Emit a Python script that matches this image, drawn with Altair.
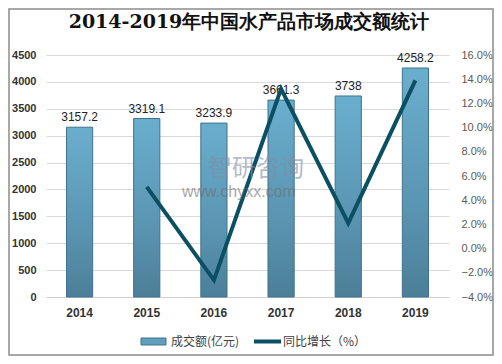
import altair as alt
import pandas as pd

YEARS = ["2014", "2015", "2016", "2017", "2018", "2019"]
VOLUME = [3157.2, 3319.1, 3233.9, 3661.3, 3738, 4258.2]
GROWTH = [None, 0.051, -0.026, 0.132, 0.021, 0.139]
LEGEND_LABELS = ["成交额(亿元)", "同比增长（%）"]
TITLE = ["2014-2019年中国水产品市场成交额统计"]
WATERMARK = ["智研咨询", "www.chyxx.com"]

df = pd.DataFrame({"year": YEARS, "volume": VOLUME, "growth": GROWTH})
df["label"] = [f"{v:g}" for v in VOLUME]

FONT = "Liberation Sans"
LINE_COLOR = "#0b4f63"

x_enc = alt.X("year:N", sort=YEARS,
              scale=alt.Scale(paddingInner=0.61, paddingOuter=0.305),
              axis=alt.Axis(title=None, labelAngle=0, labelFontWeight="bold",
                            labelFontSize=12, labelColor="#333333", labelPadding=10,
                            domain=True, domainColor="#d0d0d0", ticks=False))

left_axis = alt.Axis(title=None, values=list(range(0, 4501, 500)), format="d",
                     labelFontWeight="bold", labelFontSize=11,
                     labelColor="#333333", labelPadding=10,
                     domain=False, ticks=False, grid=True,
                     gridColor="#d9d9d9")
y_left = alt.Y("volume:Q", scale=alt.Scale(domain=[0, 4500], nice=False), axis=left_axis)

gradient = alt.LinearGradient(
    gradient="linear",
    stops=[alt.GradientStop(color="#6aaece", offset=0),
           alt.GradientStop(color="#5a95b2", offset=0.6),
           alt.GradientStop(color="#4c7f98", offset=1)],
    x1=0, x2=0, y1=0, y2=1)

base = alt.Chart(df).encode(x=x_enc, y=y_left)
bars = base.mark_bar(fill=gradient, stroke="#41728a", strokeWidth=1)
labels = base.mark_text(dy=-10, fontSize=12, color="#222222", font=FONT).encode(text="label:N")

left = alt.layer(bars, labels)

line = alt.Chart(df).transform_filter("datum.growth != null").mark_line(
    color=LINE_COLOR, strokeWidth=4, strokeCap="butt", strokeJoin="miter").encode(
    x=alt.X("year:N", sort=YEARS),
    y=alt.Y("growth:Q", scale=alt.Scale(domain=[-0.04, 0.16], nice=False),
            axis=alt.Axis(title=None, orient="right", format=".1%",
                          values=[i / 100 for i in range(-4, 17, 2)],
                          labelFontSize=11, labelColor="#595959", labelPadding=12,
                          domain=False, ticks=False, grid=False)))

wm_df = pd.DataFrame({"t": WATERMARK, "size": [24, 16], "x": [162, 136], "y": [114, 137]})
watermark_cn = alt.Chart(wm_df.iloc[:1]).mark_text(
    color="#7f8fa8", opacity=0.6, font="Noto Sans CJK SC", align="left", baseline="middle").encode(
    x=alt.X("x:Q", scale=None), y=alt.Y("y:Q", scale=None), text="t:N",
    size=alt.Size("size:Q", scale=None, legend=None))
watermark_url = alt.Chart(wm_df.iloc[1:]).mark_text(
    color="#6f6f6f", opacity=0.6, font=FONT, align="left", baseline="middle").encode(
    x=alt.X("x:Q", scale=None), y=alt.Y("y:Q", scale=None), text="t:N",
    size=alt.Size("size:Q", scale=None, legend=None))

leg_df = pd.DataFrame({"t": LEGEND_LABELS, "x": [125, 237]})
leg_bar = alt.Chart(leg_df.iloc[:1]).mark_rect(fill="#5f9fbd", stroke="#41728a").encode(
    x=alt.value(95), x2=alt.value(120), y=alt.value(283), y2=alt.value(290))
leg_line = alt.Chart(leg_df.iloc[1:]).mark_rule(color=LINE_COLOR, strokeWidth=4).encode(
    x=alt.value(208), x2=alt.value(235), y=alt.value(286.5))
leg_text = alt.Chart(leg_df).mark_text(align="left", fontSize=12, color="#404040",
                                       font="Noto Sans CJK SC").encode(
    x=alt.X("x:Q", scale=None), y=alt.value(287), text="t:N")

frame = alt.Chart(leg_df.iloc[:1]).mark_rect(fill=None, stroke="#8c8c8c", strokeWidth=1.5).encode(
    x=alt.value(-37), x2=alt.value(447), y=alt.value(-46), y2=alt.value(300))

title_df = pd.DataFrame({"t": TITLE})
title = alt.Chart(title_df).mark_text(
    font="DejaVu Serif", fontSize=19, fontWeight="bold", color="#111111",
    align="center", baseline="middle").encode(
    x=alt.value(203), y=alt.value(-33), text="t:N")

chart = alt.layer(frame, left, line, watermark_cn, watermark_url, leg_bar, leg_line,
                  leg_text, title).resolve_scale(
    y="independent"
).properties(
    width=403, height=242,
    autosize=alt.AutoSizeParams(type="none"),
    padding={"left": 38, "top": 47, "right": 45, "bottom": 59},
    background="white",
).configure_view(stroke=None)

chart.save("out.html", embed_options={"renderer": "svg", "actions": False})
